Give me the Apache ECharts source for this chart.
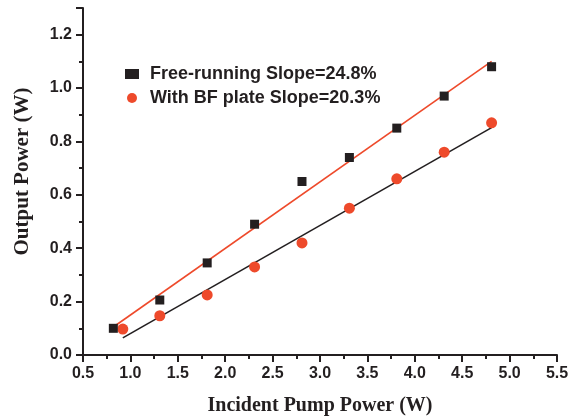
<!DOCTYPE html>
<html>
<head>
<meta charset="utf-8">
<script src="https://cdn.jsdelivr.net/npm/echarts@6/dist/echarts.min.js"></script>
<style>
  html, body { margin: 0; padding: 0; background: #fff; }
  #chart { width: 580px; height: 418px; }
</style>
</head>
<body>
<div id="chart"></div>
<script>
// incident pump power (W)
const pumpFree = [0.82, 1.31, 1.81, 2.31, 2.81, 3.31, 3.81, 4.31, 4.81]
const outFree = [0.10, 0.206, 0.345, 0.49, 0.65, 0.74, 0.85, 0.97, 1.08]
const pumpBF = [0.92, 1.31, 1.81, 2.31, 2.81, 3.31, 3.81, 4.31, 4.81]
const outBF = [0.097, 0.147, 0.225, 0.33, 0.42, 0.55, 0.66, 0.76, 0.87]

// linear fit end points
const fitFree = [[0.82, 0.105], [4.81, 1.10]]
const fitBF = [[0.92, 0.064], [4.81, 0.852]]

const nameFree = 'Free-running Slope=24.8%'
const nameBF = 'With BF plate Slope=20.3%'

const RED = '#ee4a2b'
const BLACK = '#231f20'

const chart = echarts.init(document.getElementById('chart'))

const axisLabelStyle = {
  color: BLACK,
  fontFamily: 'Liberation Sans, Arial, sans-serif',
  fontWeight: 'bold',
  fontSize: 16,
  margin: 11,
  formatter: (v) => Number(v).toFixed(1)
}
const axisNameStyle = {
  color: BLACK,
  fontFamily: 'Liberation Serif, Times New Roman, serif',
  fontWeight: 'bold',
  fontSize: 20
}

chart.setOption({
  animation: false,
  grid: { left: 83, right: 23, top: 8, bottom: 63, outerBoundsMode: 'none' },
  legend: {
    orient: 'vertical',
    left: 120,
    top: 60,
    itemGap: 6,
    itemWidth: 14,
    itemHeight: 10,
    data: [
      { name: nameFree, icon: 'rect' },
      { name: nameBF, icon: 'circle' }
    ],
    textStyle: {
      color: BLACK,
      fontFamily: 'Liberation Sans, Arial, sans-serif',
      fontWeight: 'bold',
      fontSize: 18,
      padding: [0, 0, 0, 6]
    }
  },
  xAxis: {
    type: 'value',
    min: 0.5,
    max: 5.5,
    interval: 0.5,
    name: 'Incident Pump Power (W)',
    nameLocation: 'middle',
    nameGap: 41,
    nameTextStyle: axisNameStyle,
    axisLine: { show: true, lineStyle: { color: BLACK, width: 2 } },
    axisTick: { show: true, length: 7, lineStyle: { color: BLACK, width: 2 } },
    minorTick: { show: true, splitNumber: 2, length: 4, lineStyle: { color: BLACK, width: 2 } },
    axisLabel: axisLabelStyle,
    splitLine: { show: false }
  },
  yAxis: {
    type: 'value',
    min: 0,
    max: 1.3,
    interval: 0.2,
    name: 'Output Power (W)',
    nameLocation: 'middle',
    nameGap: 50,
    nameTextStyle: Object.assign({}, axisNameStyle, { fontSize: 21, padding: [0, 0, 0, 20] }),
    axisLine: { show: true, lineStyle: { color: BLACK, width: 2 } },
    axisTick: { show: true, length: 7, lineStyle: { color: BLACK, width: 2 } },
    minorTick: { show: true, splitNumber: 2, length: 4, lineStyle: { color: BLACK, width: 2 } },
    axisLabel: Object.assign({}, axisLabelStyle, { showMaxLabel: false }),
    splitLine: { show: false }
  },
  series: [
    {
      name: 'fitFree',
      type: 'line',
      data: fitFree,
      symbol: 'none',
      lineStyle: { color: RED, width: 1.6 },
      z: 1
    },
    {
      name: 'fitBF',
      type: 'line',
      data: fitBF,
      symbol: 'none',
      lineStyle: { color: BLACK, width: 1.6 },
      z: 1
    },
    {
      name: nameFree,
      type: 'scatter',
      symbol: 'rect',
      symbolSize: 9,
      itemStyle: { color: BLACK, opacity: 1 },
      data: pumpFree.map((x, i) => [x, outFree[i]]),
      z: 3
    },
    {
      name: nameBF,
      type: 'scatter',
      symbol: 'circle',
      symbolSize: 11,
      itemStyle: { color: RED, opacity: 1 },
      data: pumpBF.map((x, i) => [x, outBF[i]]),
      z: 2
    }
  ]
})
</script>
</body>
</html>
